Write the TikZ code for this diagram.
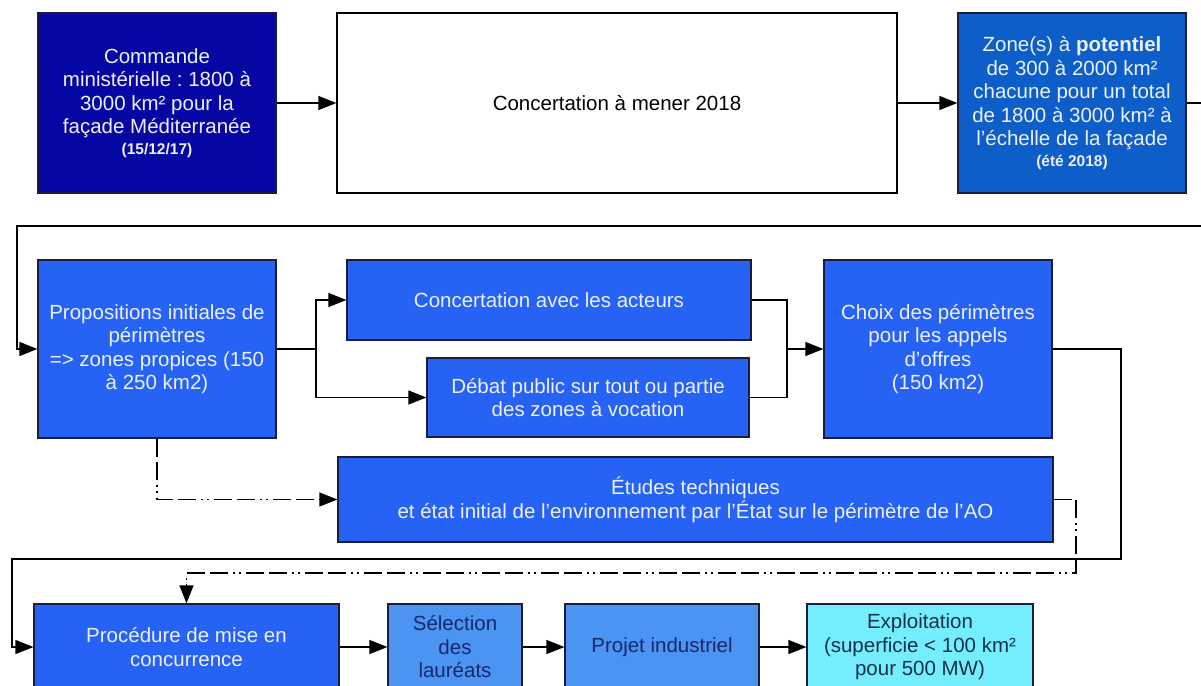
\documentclass[tikz,border=0pt]{standalone}
\usepackage{fontspec}
\setmainfont{Liberation Sans}
\usetikzlibrary{arrows.meta}
\frenchspacing
\definecolor{navyfill}{HTML}{0606A2}
\definecolor{midblue}{HTML}{0E5ECA}
\definecolor{royal}{HTML}{2662F4}
\definecolor{lightblue}{HTML}{4B94F2}
\definecolor{cyanfill}{HTML}{74EEFC}
\definecolor{boxline}{HTML}{1C1C3C}
\definecolor{lighttext}{HTML}{ECF0FF}
\definecolor{darktext}{HTML}{18286E}
\definecolor{cyantext}{HTML}{14304C}
\newcommand{\smalltxt}[1]{{\fontsize{15.5}{17}\selectfont\bfseries #1}}
\begin{document}
\begin{tikzpicture}[x=1pt,y=-1pt,
  box/.style={draw=boxline, line width=1.2pt, inner sep=0pt, align=center,
    font=\fontsize{20.5}{23.5}\selectfont, anchor=center},
  darkbox/.style={box, text=lighttext},
  conn/.style={line width=1.3pt, draw=black},
  arr/.style={conn, -{Triangle[length=18pt,width=14pt]}},
  dd/.style={line width=1.3pt, draw=black,
    dash pattern=on 18pt off 5pt on 18pt off 5pt on 2pt off 4pt on 2pt off 5pt,
    -{Triangle[length=18pt,width=14pt]}}]
\useasboundingbox (0,0) rectangle (1201,685);
\fill[white] (0,0) rectangle (1201,685);
\clip (0,0) rectangle (1201,685);

% row 1
\node[darkbox, fill=navyfill, minimum width=238pt, minimum height=180pt] (b1) at (157,103)
  {Commande\\ministérielle : 1800 à\\3000 km² pour la\\façade Méditerranée\\[-3pt]\smalltxt{(15/12/17)}};
\node[box, fill=white, draw=black, minimum width=560pt, minimum height=180pt] (b2) at (617,103)
  {Concertation à mener 2018};
\node[darkbox, fill=midblue, minimum width=228pt, minimum height=180pt] (b3) at (1072,103)
  {Zone(s) à \textbf{potentiel}\\de 300 à 2000 km²\\chacune pour un total\\de 1800 à 3000 km² à\\l’échelle de la façade\\[-3pt]\smalltxt{(été 2018)}};

% row 2
\node[darkbox, fill=royal, minimum width=238pt, minimum height=178pt] (b4) at (157,349)
  {Propositions initiales de\\périmètres\\=> zones propices (150\\à 250 km2)};
\node[darkbox, fill=royal, minimum width=404pt, minimum height=80pt] (b5) at (549,300)
  {Concertation avec les acteurs};
\node[darkbox, fill=royal, minimum width=322pt, minimum height=79pt] (b6) at (588,397.5)
  {Débat public sur tout ou partie\\des zones à vocation};
\node[darkbox, fill=royal, minimum width=228pt, minimum height=178pt] (b7) at (938,349)
  {Choix des périmètres\\pour les appels\\d’offres\\(150 km2)};
\node[darkbox, fill=royal, minimum width=715pt, minimum height=85pt] (b8) at (695.5,499.5)
  {Études techniques\\et état initial de l’environnement par l’État sur le périmètre de l’AO};

% row 3
\node[darkbox, fill=royal, minimum width=305pt, minimum height=86pt] (b9) at (186.5,647)
  {Procédure de mise en\\concurrence};
\node[box, fill=lightblue, text=darktext, minimum width=134pt, minimum height=86pt] (b10) at (455,647)
  {Sélection\\des\\lauréats};
\node[box, fill=lightblue, text=darktext, minimum width=194pt, minimum height=86pt] (b11) at (662,647)
  {Projet industriel};
\node[box, fill=cyanfill, text=cyantext, minimum width=226pt, minimum height=86pt] (b12) at (920,647)
  {Exploitation\\(superficie < 100 km²\\pour 500 MW)};

% coordinates
\coordinate (offA) at (1230,103);
\coordinate (offB) at (1230,226);
\coordinate (wrapL) at (17,226);
\coordinate (split) at (316,349);
\coordinate (merge) at (787,349);
\coordinate (rightC) at (1121,559);
\coordinate (leftC) at (12,559);
\coordinate (dR) at (1076,573);
\coordinate (dL) at (186.5,573);

% connectors
\draw[arr] (b1.east) -- (b2.west);
\draw[arr] (b2.east) -- (b3.west);
\draw[arr] (b3.east) -- (offA) -- (offB) -- (wrapL) |- (b4.west);
\draw[conn] (b4.east) -- (split);
\draw[arr] (split) |- (b5.west);
\draw[arr] (split) |- (b6.west);
\draw[conn] (b5.east) -| (merge);
\draw[conn] (b6.east) -| (merge);
\draw[arr] (merge) -- (b7.west);
\draw[arr] (b7.east) -| (rightC) -- (leftC) |- (b9.west);
\draw[dd] (b4.south) |- (b8.west);
\draw[dd] (b8.east) -| (dR) -- (dL) -- (b9.north);
\draw[arr] (b9.east) -- (b10.west);
\draw[arr] (b10.east) -- (b11.west);
\draw[arr] (b11.east) -- (b12.west);
\end{tikzpicture}
\end{document}
